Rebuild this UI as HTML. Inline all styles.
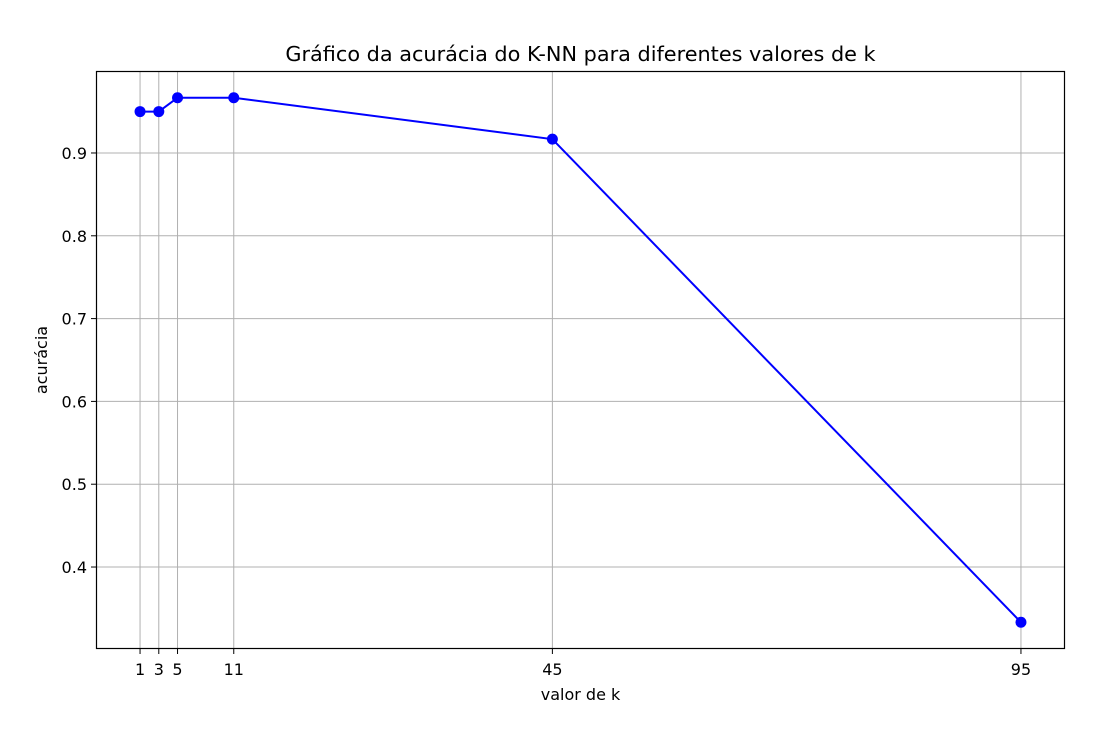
<!DOCTYPE html>
<html><head><meta charset="utf-8"><style>
body{margin:0;background:#fff;}
svg text{font-family:"DejaVu Sans","Liberation Sans",sans-serif;fill:#000;}
</style></head><body>
<svg id="chart" width="1120" height="730" xmlns="http://www.w3.org/2000/svg">
<text x="580.5" y="61" font-size="20.8" text-anchor="middle">Gráfico da acurácia do K-NN para diferentes valores de k</text>
<g id="grid"></g>
<g id="ticks"></g>
<g id="series"></g>
<rect x="96.5" y="71.5" width="968" height="577" fill="none" stroke="#000" stroke-width="1.2"/>
<text x="580.5" y="700" font-size="16" text-anchor="middle">valor de k</text>
<text x="47" y="360" font-size="16" text-anchor="middle" transform="rotate(-90 47 360)">acurácia</text>
</svg>
<script>
const kValues=[1,3,5,11,45,95];
const accuracy=[0.95,0.95,0.9667,0.9667,0.9167,0.3333];
const yTicks=[0.4,0.5,0.6,0.7,0.8,0.9];
const yTickLabels=["0.4","0.5","0.6","0.7","0.8","0.9"];
const NS="http://www.w3.org/2000/svg";
const L=96,R=1065,T=71,B=649;
const xMin=-3.7,xMax=99.7,yMin=0.301,yMax=0.999;
function xs(v){return L+(v-xMin)/(xMax-xMin)*(R-L);}
function ys(v){return B-(v-yMin)/(yMax-yMin)*(B-T);}
function mk(tag,attrs,parent){const e=document.createElementNS(NS,tag);for(const k in attrs)e.setAttribute(k,attrs[k]);parent.appendChild(e);return e;}
const grid=document.getElementById('grid'),ticks=document.getElementById('ticks'),series=document.getElementById('series');
kValues.forEach(k=>{
 const x=xs(k);
 const g=mk('line',{x1:x,x2:x,y1:T,y2:B,stroke:'#b0b0b0','stroke-width':1},grid);
 
 
 const t=mk('line',{x1:x,x2:x,y1:B,y2:B+5,stroke:'#000','stroke-width':1},ticks);
 
 
 const lb=mk('text',{x:x,y:B+26,'font-size':16,'text-anchor':'middle'},ticks);
 lb.textContent=String(k);
 
 
});
yTicks.forEach((v,i)=>{
 const y=ys(v);
 const g=mk('line',{x1:L,x2:R,y1:y,y2:y,stroke:'#b0b0b0','stroke-width':1},grid);
 
 
 const t=mk('line',{x1:L-5,x2:L,y1:y,y2:y,stroke:'#000','stroke-width':1},ticks);
 
 
 const lb=mk('text',{x:L-9,y:y+6,'font-size':16,'text-anchor':'end'},ticks);
 lb.textContent=yTickLabels[i];
 
 
});
const pts=kValues.map((k,i)=>xs(k)+','+ys(accuracy[i])).join(' ');
const line=mk('polyline',{points:pts,fill:'none',stroke:'#0000ff','stroke-width':2},series);


kValues.forEach((k,i)=>{
 const c=mk('circle',{cx:xs(k),cy:ys(accuracy[i]),r:5.5,fill:'#0000ff'},series);
 
 
});
</script>
</body></html>
